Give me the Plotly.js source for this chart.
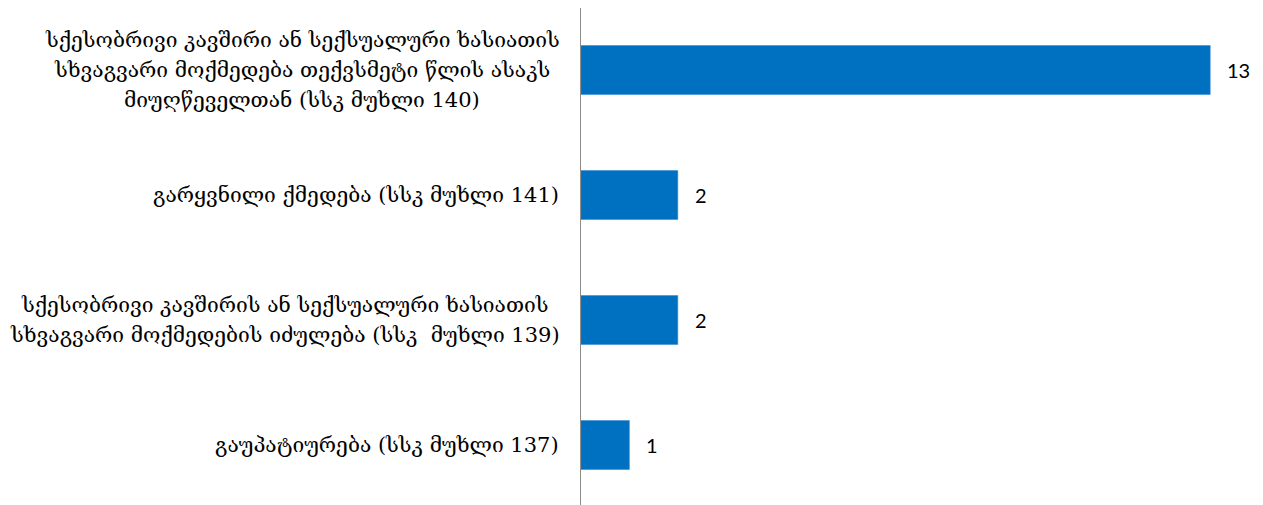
<!DOCTYPE html>
<html><head><meta charset="utf-8">
<script src="https://cdn.plot.ly/plotly-3.0.1.min.js"></script>
<style>html,body{margin:0;padding:0;background:#fff}#chart{width:1263px;height:505px}</style>
</head><body><div id="chart"></div>
<script>
const categories = [
  "გაუპატიურება (სსკ მუხლი 137)",
  "სქესობრივი კავშირის ან სექსუალური ხასიათის<br>სხვაგვარი მოქმედების იძულება (სსკ  მუხლი 139)",
  "გარყვნილი ქმედება (სსკ მუხლი 141)",
  "სქესობრივი კავშირი ან სექსუალური ხასიათის<br>სხვაგვარი მოქმედება თექვსმეტი წლის ასაკს<br>მიუღწეველთან (სსკ მუხლი 140)"
];
const values = [1, 2, 2, 13];

const labelFont = {family: "DejaVu Serif", size: 21, color: "#000"};
const lineStep = 30;
const annotations = [];
const ctx = document.createElement("canvas").getContext("2d");
ctx.font = "21px 'DejaVu Serif'";
categories.forEach((c, i) => {
  const lines = c.split("<br>");
  const widths = lines.map(l => ctx.measureText(l).width);
  const maxW = Math.max(...widths);
  lines.forEach((l, k) => {
    annotations.push({xref: "paper", yref: "y", x: 0, y: i, text: l, showarrow: false,
      xanchor: "center", yanchor: "middle",
      xshift: -22 - maxW / 2,
      yshift: ((lines.length - 1) / 2 - k) * lineStep, font: labelFont});
  });
  annotations.push({xref: "x", yref: "y", x: values[i], y: i, text: String(values[i]), showarrow: false,
    xanchor: "left", yanchor: "middle", xshift: 15, font: {family: "Lato", size: 20, color: "#000"}});
});

Plotly.newPlot("chart", [{
  type: "bar", orientation: "h", x: values, y: [0,1,2,3],
  marker: {color: "#0070C0", line: {color: "#2E86D6", width: 0.5}}, hoverinfo: "none"
}], {
  width: 1263, height: 505,
  margin: {l: 581, r: 0, t: 8, b: 0},
  bargap: 0.608,
  showlegend: false,
  paper_bgcolor: "#fff", plot_bgcolor: "#fff",
  xaxis: {range: [0, 14.09], visible: false, fixedrange: true},
  yaxis: {range: [-0.48, 3.496], showticklabels: false, showgrid: false, zeroline: false,
    showline: true, linecolor: "#8c8c8c", linewidth: 1.5, ticks: ""},
  annotations: annotations
}, {staticPlot: true});
</script></body></html>
